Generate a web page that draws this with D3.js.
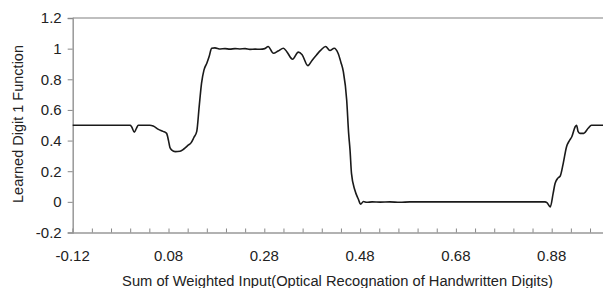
<!DOCTYPE html>
<html lang="en">
  <head>
    <meta charset="UTF-8" />
    <title>Learned Digit 1 Function</title>
    <style>
      * {
        margin: 0;
        padding: 0;
      }
      body {
        background: #fff;
      }
      text {
        font-family: Arial, 'Liberation Sans', sans-serif;
        fill: #222;
      }
    </style>
  </head>
  <body>
    <script src="https://cdn.jsdelivr.net/npm/d3@7"></script>
    <script>
      // x: weighted input sum, y: learned function value
      const xs = [
        -0.12, -0.063, 0.0, 0.003, 0.0086, 0.013, 0.017, 0.031, 0.041, 0.048,
        0.059, 0.0685, 0.076, 0.08, 0.083, 0.087, 0.094, 0.104, 0.112, 0.121,
        0.127, 0.133, 0.139, 0.144, 0.149, 0.154, 0.16, 0.165, 0.17, 0.177,
        0.188, 0.198, 0.208, 0.219, 0.229, 0.24, 0.25, 0.261, 0.271, 0.281,
        0.288, 0.299, 0.309, 0.32, 0.327, 0.339, 0.351, 0.359, 0.371, 0.38,
        0.389, 0.398, 0.408, 0.417, 0.426, 0.434, 0.44, 0.445, 0.452, 0.456,
        0.459, 0.462, 0.469, 0.476, 0.481, 0.487, 0.494, 0.505, 0.522, 0.542,
        0.563, 0.584, 0.605, 0.7, 0.8, 0.866, 0.87, 0.877, 0.883, 0.887,
        0.893, 0.898, 0.904, 0.911, 0.917, 0.922, 0.929, 0.932, 0.935, 0.939,
        0.947, 0.956, 0.963, 0.99
      ]
      const ys = [
        0.5, 0.5, 0.5, 0.49, 0.455, 0.48, 0.5, 0.5, 0.5, 0.495,
        0.473, 0.46, 0.447, 0.4, 0.355, 0.338, 0.328, 0.33, 0.345, 0.37,
        0.385, 0.42, 0.46, 0.62, 0.775, 0.86, 0.905, 0.95, 1.003, 1.005,
        0.998, 1.0, 0.997, 1.0, 0.998, 1.0, 0.995, 0.997, 0.996, 1.0,
        1.014, 0.97, 0.985, 1.003, 0.98, 0.931, 0.977, 0.96, 0.889, 0.925,
        0.959, 0.99, 1.014, 0.988, 1.003, 0.97, 0.91, 0.85, 0.665, 0.45,
        0.338, 0.186, 0.077, 0.02, -0.015, 0.002, -0.003, 0.0, -0.002, 0.0,
        -0.003, 0.0, 0.0, 0.0, 0.0, 0.0, -0.005, -0.033, 0.055, 0.12,
        0.155, 0.17, 0.25, 0.36, 0.4, 0.425, 0.49, 0.5, 0.46, 0.447,
        0.447, 0.48, 0.5, 0.5
      ]
      const xTicks = [-0.12, 0.08, 0.28, 0.48, 0.68, 0.88]
      const yTicks = [-0.2, 0, 0.2, 0.4, 0.6, 0.8, 1, 1.2]

      const width = 603
      const height = 288
      const plotLeft = 72.7
      const plotTop = 18
      const plotBottom = 232.5

      // plain hyphen for negatives, like the original
      const fmt = (f) => (d) => f(d).replace('\u2212', '-')

      const svg = d3
        .select('body')
        .append('svg')
        .attr('width', width)
        .attr('height', height)

      const x = d3
        .scaleLinear()
        .domain([-0.12, 1.08])
        .range([plotLeft, plotLeft + 1.2 * 479])
      const y = d3.scaleLinear().domain([-0.2, 1.2]).range([plotBottom, plotTop])

      // top frame line
      svg
        .append('line')
        .attr('x1', plotLeft)
        .attr('x2', width)
        .attr('y1', plotTop)
        .attr('y2', plotTop)
        .attr('stroke', '#aaa')
        .attr('stroke-width', 1.5)

      // x axis, ticks pointing inward, every 0.04
      const xAxis = svg
        .append('g')
        .attr('transform', `translate(0,${plotBottom})`)
        .call(
          d3
            .axisBottom(x)
            .tickValues(d3.range(0, 31).map((i) => -0.12 + i * 0.04))
            .tickSize(-4)
            .tickFormat('')
        )
      xAxis.select('.domain').attr('stroke', '#999').attr('stroke-width', 1.5)
      xAxis.selectAll('.tick line').attr('stroke', '#888')

      svg
        .append('g')
        .selectAll('text')
        .data(xTicks)
        .join('text')
        .attr('x', (d) => x(d))
        .attr('y', 260.5)
        .attr('text-anchor', 'middle')
        .style('font-size', '15px')
        .text(fmt(d3.format('.2f')))

      // y axis
      const yAxis = svg
        .append('g')
        .attr('transform', `translate(${plotLeft},0)`)
        .call(
          d3
            .axisLeft(y)
            .tickValues(yTicks)
            .tickSize(5)
            .tickPadding(6)
            .tickFormat((d) => (d === 0 || d === 1 ? String(d) : fmt(d3.format('.1f'))(d)))
        )
      yAxis.select('.domain').attr('stroke', '#999').attr('stroke-width', 1.5)
      yAxis.selectAll('.tick line').attr('stroke', '#888')
      yAxis
        .selectAll('.tick text')
        .style('font-size', '15px')
        .style('font-family', 'Arial, Liberation Sans, sans-serif')
        .attr('fill', '#222')

      // the learned curve
      const line = d3
        .line()
        .x((d, i) => x(xs[i]))
        .y((d) => y(d))
        .curve(d3.curveMonotoneX)

      svg
        .append('path')
        .datum(ys)
        .attr('d', line)
        .attr('fill', 'none')
        .attr('stroke', '#1a1a1a')
        .attr('stroke-width', 1.6)

      // axis titles
      svg
        .append('text')
        .attr('x', 337.5)
        .attr('y', 285.5)
        .attr('text-anchor', 'middle')
        .style('font-size', '14.7px')
        .text('Sum of Weighted Input(Optical Recognation of Handwritten Digits)')

      svg
        .append('text')
        .attr('transform', 'translate(23,124) rotate(-90)')
        .attr('text-anchor', 'middle')
        .style('font-size', '14.5px')
        .text('Learned Digit 1 Function')
    </script>
  </body>
</html>
